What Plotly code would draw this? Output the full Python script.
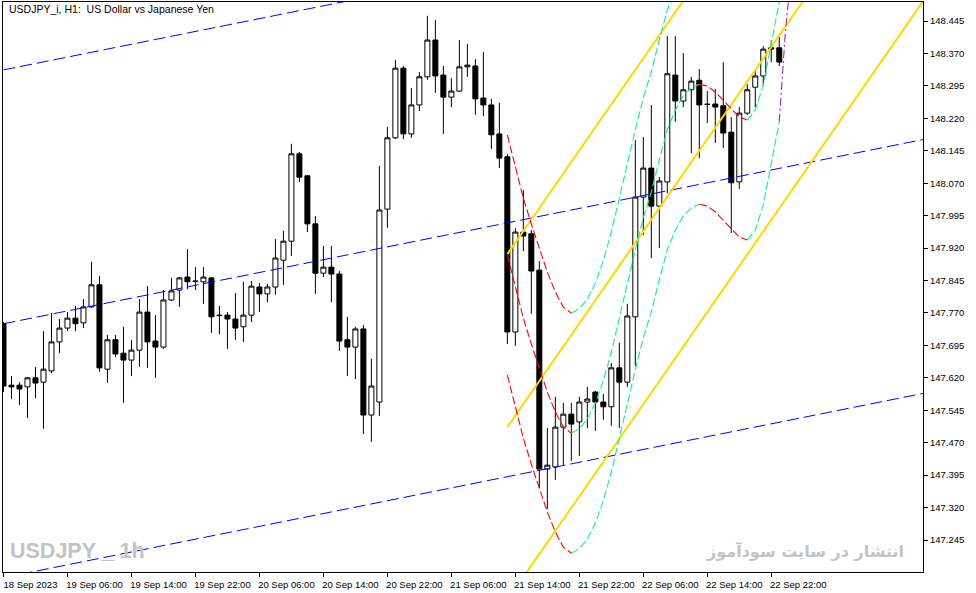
import plotly.graph_objects as go

# ---------------- data ----------------
title_text = "USDJPY_i, H1:  US Dollar vs Japanese Yen"
watermark_left = "USDJPY _ 1h"
watermark_right = "انتشار در سایت سودآموز"

# hourly bars, bar 0 = 18 Sep 2023 22:00, bar 97 = 22 Sep 2023 23:00
bars = list(range(98))

opens = [147.745, 147.603, 147.603, 147.599, 147.620, 147.610, 147.636, 147.703, 147.735, 147.758,
         147.747, 147.784, 147.835, 147.640, 147.708, 147.677, 147.661, 147.684, 147.772, 147.705,
         147.691, 147.800, 147.823, 147.853, 147.844, 147.842, 147.851, 147.765, 147.765, 147.756,
         147.738, 147.765, 147.830, 147.814, 147.830, 147.892, 147.936, 148.138, 148.087, 147.976,
         147.862, 147.876, 147.860, 147.708, 147.691, 147.733, 147.534, 147.564, 148.010, 148.175,
         148.336, 148.184, 148.251, 148.316, 148.401, 148.320, 148.269, 148.283, 148.339, 148.341,
         148.267, 148.251, 148.184, 148.131, 147.726, 147.957, 147.953, 147.869, 147.409, 147.414,
         147.506, 147.536, 147.518, 147.564, 147.587, 147.564, 147.553, 147.643, 147.610, 147.761,
         148.038, 148.105, 148.017, 148.073, 148.320, 148.260, 148.286, 148.308, 148.253, 148.253,
         148.249, 148.188, 148.073, 148.232, 148.292, 148.318, 148.380, 148.383]
highs = [147.749, 147.624, 147.610, 147.622, 147.645, 147.728, 147.770, 147.756, 147.772, 147.786,
         147.802, 147.888, 147.856, 147.719, 147.719, 147.738, 147.708, 147.802, 147.832, 147.765,
         147.823, 147.851, 147.853, 147.918, 147.876, 147.876, 147.853, 147.786, 147.772, 147.816,
         147.842, 147.844, 147.839, 147.837, 147.941, 147.960, 148.161, 148.142, 148.089, 147.994,
         147.925, 147.925, 147.867, 147.761, 147.738, 147.742, 147.664, 148.110, 148.200, 148.355,
         148.341, 148.290, 148.327, 148.457, 148.447, 148.341, 148.313, 148.401, 148.392, 148.357,
         148.373, 148.265, 148.256, 148.138, 147.966, 148.054, 147.962, 147.890, 147.504, 147.576,
         147.562, 147.562, 147.576, 147.599, 147.590, 147.583, 147.654, 147.701, 147.791, 148.170,
         148.177, 148.251, 148.084, 148.410, 148.410, 148.371, 148.316, 148.334, 148.283, 148.288,
         148.350, 148.223, 148.246, 148.299, 148.330, 148.387, 148.401, 148.408]
lows = [147.587, 147.571, 147.557, 147.527, 147.573, 147.502, 147.631, 147.677, 147.728, 147.728,
        147.735, 147.782, 147.634, 147.608, 147.668, 147.562, 147.624, 147.645, 147.643, 147.620,
        147.687, 147.798, 147.784, 147.825, 147.823, 147.791, 147.724, 147.721, 147.687, 147.708,
        147.703, 147.749, 147.772, 147.795, 147.812, 147.835, 147.902, 148.073, 147.957, 147.814,
        147.853, 147.795, 147.682, 147.624, 147.617, 147.490, 147.472, 147.532, 147.967, 148.172,
        148.172, 148.175, 148.237, 148.309, 148.279, 148.184, 148.246, 148.281, 148.316, 148.228,
        148.225, 148.149, 148.105, 147.698, 147.694, 147.913, 147.768, 147.365, 147.317, 147.384,
        147.418, 147.428, 147.439, 147.504, 147.497, 147.523, 147.509, 147.504, 147.599, 147.647,
        147.950, 147.897, 147.920, 148.047, 148.212, 148.246, 148.140, 148.128, 148.209, 148.163,
        148.151, 147.955, 148.057, 148.228, 148.246, 148.295, 148.350, 148.341]
closes = [147.601, 147.599, 147.594, 147.620, 147.608, 147.640, 147.703, 147.735, 147.758, 147.745,
          147.784, 147.835, 147.643, 147.708, 147.675, 147.661, 147.684, 147.772, 147.703, 147.691,
          147.800, 147.821, 147.851, 147.842, 147.843, 147.853, 147.761, 147.764, 147.756, 147.735,
          147.765, 147.832, 147.814, 147.830, 147.897, 147.936, 148.138, 148.084, 147.976, 147.862,
          147.876, 147.860, 147.705, 147.691, 147.733, 147.534, 147.601, 148.008, 148.175, 148.336,
          148.184, 148.251, 148.316, 148.401, 148.318, 148.269, 148.283, 148.339, 148.343, 148.265,
          148.251, 148.182, 148.128, 147.726, 147.957, 147.948, 147.867, 147.409, 147.418, 147.506,
          147.536, 147.513, 147.564, 147.571, 147.564, 147.553, 147.643, 147.610, 147.763, 148.038,
          148.105, 148.017, 148.075, 148.323, 148.260, 148.286, 148.306, 148.251, 148.252, 148.246,
          148.186, 148.071, 148.232, 148.286, 148.318, 148.380, 148.383, 148.350]

x_tick_bars = [0, 8, 16, 24, 32, 40, 48, 56, 64, 72, 80, 88, 96]
x_tick_labels = ["18 Sep 2023", "19 Sep 06:00", "19 Sep 14:00", "19 Sep 22:00", "20 Sep 06:00",
                 "20 Sep 14:00", "20 Sep 22:00", "21 Sep 06:00", "21 Sep 14:00", "21 Sep 22:00",
                 "22 Sep 06:00", "22 Sep 14:00", "22 Sep 22:00"]
y_tick_values = [147.245, 147.320, 147.395, 147.470, 147.545, 147.620, 147.695, 147.770, 147.845,
                 147.920, 147.995, 148.070, 148.145, 148.220, 148.295, 148.370, 148.445]

# blue standard-deviation channel (rays across the chart)
blue_bars = [0, 115]
blue_mid = [147.745, 148.171]
blue_half_width = 0.587

# gold equidistant channel, anchored at bar 63
gold_bars = [63, 115]
gold_mid = [147.506, 148.891]
gold_half_width = 0.400

# polynomial regression curve from bar 63 to 97, with bands
poly_bars = list(range(63, 98))
poly_mid = [147.904, 147.828, 147.758, 147.698, 147.643, 147.587, 147.541, 147.506, 147.492, 147.502,
            147.525, 147.562, 147.613, 147.680, 147.758, 147.839, 147.916, 147.990, 148.050, 148.124,
            148.193, 148.239, 148.272, 148.290, 148.299, 148.295, 148.281, 148.262, 148.242, 148.223,
            148.216, 148.239, 148.297, 148.397, 148.489]
poly_band = 0.2775

# forecast part of the lower band (purple)
forecast_bars = [97, 97.35, 97.75, 98.15, 98.5]
forecast_lower = [148.212, 148.316, 148.417, 148.494, 148.580]

x_range = [-0.06, 114.97]
y_range = [147.171, 148.489]

# ---------------- figure ----------------
FONT = "Liberation Sans, Arial, sans-serif"
fig = go.Figure()

fig.add_trace(go.Candlestick(
    x=bars, open=opens, high=highs, low=lows, close=closes,
    increasing=dict(line=dict(color="black", width=1), fillcolor="white"),
    decreasing=dict(line=dict(color="black", width=1), fillcolor="black"),
    whiskerwidth=0, hoverinfo="skip", showlegend=False,
))

# blue channel
for k in (-1, 0, 1):
    fig.add_trace(go.Scatter(
        x=blue_bars, y=[v + k * blue_half_width for v in blue_mid], mode="lines",
        line=dict(color="#0000FF", width=1, dash="12px,5px"),
        hoverinfo="skip", showlegend=False))

# gold channel
for k in (-1, 0, 1):
    fig.add_trace(go.Scatter(
        x=gold_bars, y=[v + k * gold_half_width for v in gold_mid], mode="lines",
        line=dict(color="#FFD700", width=2),
        hoverinfo="skip", showlegend=False))

# polynomial curves: red while falling, green while rising
runs = []
start = 0
for i in range(1, len(poly_mid) - 1):
    up_prev = poly_mid[i] >= poly_mid[i - 1]
    up_next = poly_mid[i + 1] >= poly_mid[i]
    if up_prev != up_next:
        runs.append((start, i, up_prev))
        start = i
runs.append((start, len(poly_mid) - 1, poly_mid[-1] >= poly_mid[-2]))

for k in (-1, 0, 1):
    for a, b, up in runs:
        fig.add_trace(go.Scatter(
            x=poly_bars[a:b + 1], y=[v + k * poly_band for v in poly_mid[a:b + 1]], mode="lines",
            line=dict(color="#12F08C" if up else "#FF0000", width=1.1, dash="8px,3px"),
            hoverinfo="skip", showlegend=False))

fig.add_trace(go.Scatter(
    x=forecast_bars, y=forecast_lower, mode="lines",
    line=dict(color="#8A2BE2", width=1.1, dash="8px,3px,2px,3px"),
    hoverinfo="skip", showlegend=False))

fig.add_annotation(text=title_text, xref="paper", yref="paper", x=0.0043, y=0.988,
                   xanchor="left", yanchor="middle", showarrow=False,
                   font=dict(family=FONT, size=10.5, color="black"))
fig.add_annotation(text="<b>" + watermark_left + "</b>", xref="paper", yref="paper", x=0.005, y=0.036,
                   xanchor="left", yanchor="middle", showarrow=False,
                   font=dict(family="Liberation Sans, Arial, sans-serif", size=21.5, color="#C3C3C3"))
fig.add_annotation(text="<b>" + watermark_right + "</b>", xref="paper", yref="paper", x=0.9815, y=0.037,
                   xanchor="right", yanchor="middle", showarrow=False,
                   font=dict(family="DejaVu Sans, sans-serif", size=16, color="#C3C3C3"))

fig.update_layout(
    width=976, height=593,
    margin=dict(l=3, r=53, t=2, b=21, autoexpand=False),
    paper_bgcolor="white", plot_bgcolor="white",
    showlegend=False, hovermode=False,
    boxgap=0.375, boxgroupgap=0,
    xaxis=dict(range=x_range, tickmode="array", tickvals=x_tick_bars, ticktext=x_tick_labels,
               ticks="outside", ticklen=4, tickcolor="black", showline=True, linecolor="black",
               linewidth=1, mirror=True, showgrid=False, zeroline=False, automargin=False,
               rangeslider=dict(visible=False), ticklabelshift=27,
               tickfont=dict(family=FONT, size=9.5, color="black")),
    yaxis=dict(range=y_range, side="right", tickmode="array", tickvals=y_tick_values,
               ticktext=["%.3f" % v for v in y_tick_values],
               ticks="outside", ticklen=4, tickcolor="black", showline=True, linecolor="black",
               linewidth=1, mirror=True, showgrid=False, zeroline=False, automargin=False,
               tickfont=dict(family=FONT, size=9.5, color="black")),
)

fig.write_html("out.html", config={"displayModeBar": False},
               post_script="document.body.style.margin='0px';")
